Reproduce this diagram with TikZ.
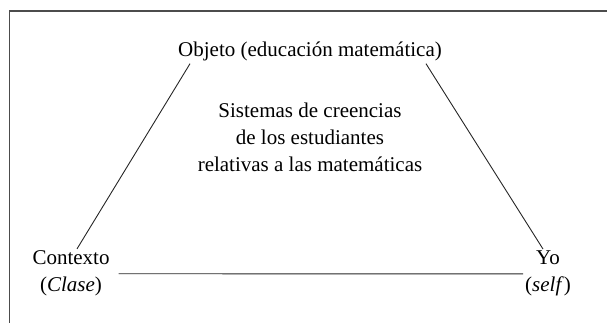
\documentclass[tikz,border=0pt]{standalone}
\usepackage{fontspec}
\setmainfont{Liberation Serif}
\usepackage{tikz}
\usetikzlibrary{calc}
\tikzstyle{lbl} = [inner sep = 0pt, align = center, font = \fontsize{21}{27}\selectfont]
\tikzstyle{edge} = [line width = 0.9, color = black!85]

\begin{document}
\begin{tikzpicture}[x=1pt, y=1pt, frame/.style={line width=1.1, black!70}]
		
		% Bounding box
		\useasboundingbox (0,0) rectangle (607,323);
		
		% Frame
		\draw[frame] (9.7,0) -- (9.7,312) -- (607,312);
		
		% Nodes (base = last line)
		\node (obj) [lbl, anchor=base] at (310,266) {Objeto (educación matemática)};
		\node (sis) [lbl, anchor=base] at (310,151) {Sistemas de creencias\\de los estudiantes\\relativas a las matemáticas};
		\node (ctx) [lbl, anchor=base] at (71,31) {Contexto\\(\textit{Clase})};
		\node (yo) [lbl, anchor=base] at (548,31) {Yo\\(\textit{self})};
		
		% Lines
		\draw[edge] ([xshift=12pt, yshift=-2pt]obj.south west) -- ([xshift=6pt, yshift=2pt]ctx.north);
		\draw[edge] ([xshift=-16pt, yshift=-2pt]obj.south east) -- ([xshift=-5pt, yshift=2pt]yo.north);
		\draw[edge] ([xshift=9pt]ctx.east) -- ([xshift=-2pt]yo.west);
	\end{tikzpicture}
\end{document}
